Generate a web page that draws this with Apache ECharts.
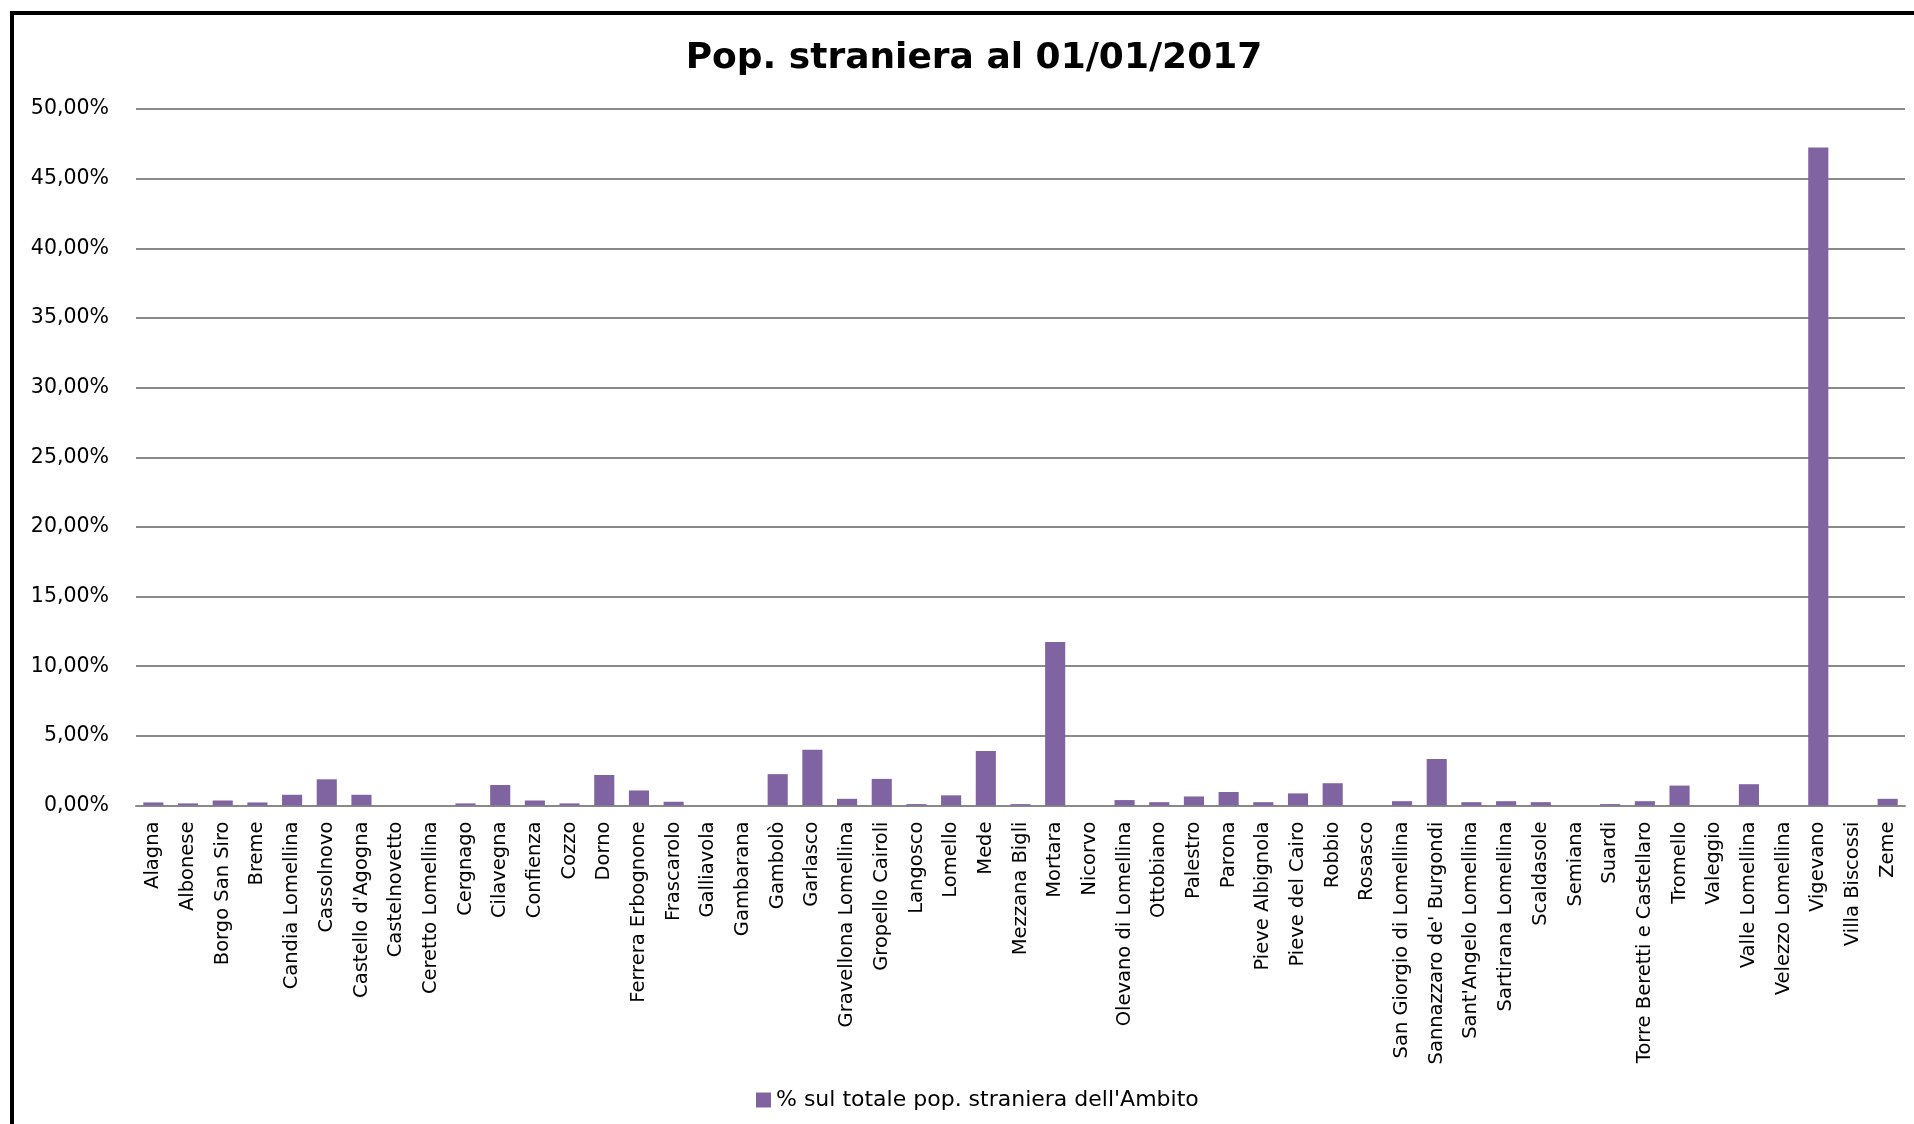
<!DOCTYPE html>
<html>
<head>
<meta charset="utf-8">
<script src="https://cdn.jsdelivr.net/npm/echarts@6/dist/echarts.min.js"></script>
<style>
html,body{margin:0;padding:0;background:#fff;}
#chart{width:1914px;height:1124px;}
</style>
</head>
<body>
<div id="chart"></div>
<script>
const titleText = "Pop. straniera al 01/01/2017";
const seriesName = "% sul totale pop. straniera dell'Ambito";
const categories = [
  "Alagna","Albonese","Borgo San Siro","Breme","Candia Lomellina","Cassolnovo",
  "Castello d'Agogna","Castelnovetto","Ceretto Lomellina","Cergnago","Cilavegna",
  "Confienza","Cozzo","Dorno","Ferrera Erbognone","Frascarolo","Galliavola",
  "Gambarana","Gambolò","Garlasco","Gravellona Lomellina","Gropello Cairoli",
  "Langosco","Lomello","Mede","Mezzana Bigli","Mortara","Nicorvo",
  "Olevano di Lomellina","Ottobiano","Palestro","Parona","Pieve Albignola",
  "Pieve del Cairo","Robbio","Rosasco","San Giorgio di Lomellina",
  "Sannazzaro de' Burgondi","Sant'Angelo Lomellina","Sartirana Lomellina",
  "Scaldasole","Semiana","Suardi","Torre Beretti e Castellaro","Tromello",
  "Valeggio","Valle Lomellina","Velezzo Lomellina","Vigevano","Villa Biscossi","Zeme"
];
const values = [
  0.22,0.15,0.36,0.22,0.77,1.88,
  0.77,0,0,0.15,1.47,
  0.36,0.15,2.19,1.08,0.27,0,
  0,2.25,4.00,0.48,1.91,
  0.10,0.73,3.92,0.10,11.74,0,
  0.39,0.24,0.65,0.97,0.24,
  0.87,1.60,0,0.31,
  3.34,0.24,0.31,
  0.24,0,0.10,0.31,1.43,
  0,1.53,0,47.23,0,0.48
];
const yMin = 0, yMax = 50, yStep = 5;

const chart = echarts.init(document.getElementById('chart'), null, {renderer:'canvas'});
chart.setOption({
  backgroundColor:'#ffffff',
  animation:false,
  title:{
    text:titleText,
    left:969, top:36, textAlign:'center',
    textStyle:{fontFamily:'DejaVu Sans', fontWeight:'bold', fontSize:36, color:'#000'}
  },
  graphic:[{
    type:'rect', silent:true, z:100,
    shape:{x:12, y:13, width:2200, height:2200},
    style:{fill:'none', stroke:'#000', lineWidth:4}
  }],
  legend:{
    data:[seriesName],
    left:751, top:1084,
    itemWidth:15, itemHeight:15, itemGap:8,
    icon:'rect',
    textStyle:{fontFamily:'DejaVu Sans', fontSize:22, color:'#000'}
  },
  grid:{left:136, right:9, top:109, bottom:318.5, containLabel:false},
  xAxis:{
    type:'category', data:categories,
    axisLine:{show:true, lineStyle:{color:'#898989', width:2}},
    axisTick:{show:false},
    axisLabel:{interval:0, rotate:90, margin:16, fontFamily:'DejaVu Sans', fontSize:19.5, color:'#000'}
  },
  yAxis:{
    type:'value', min:yMin, max:yMax, interval:yStep,
    axisLine:{show:false}, axisTick:{show:false},
    splitLine:{lineStyle:{color:'#898989', width:2}},
    axisLabel:{margin:27, fontFamily:'DejaVu Sans', fontSize:20.5, color:'#000',
      formatter:v => v.toFixed(2).replace('.', ',') + '%'}
  },
  series:[{
    name:seriesName, type:'bar', data:values,
    barCategoryGap:'42%',
    itemStyle:{color:'#8064A2'}
  }]
});
</script>
</body>
</html>
